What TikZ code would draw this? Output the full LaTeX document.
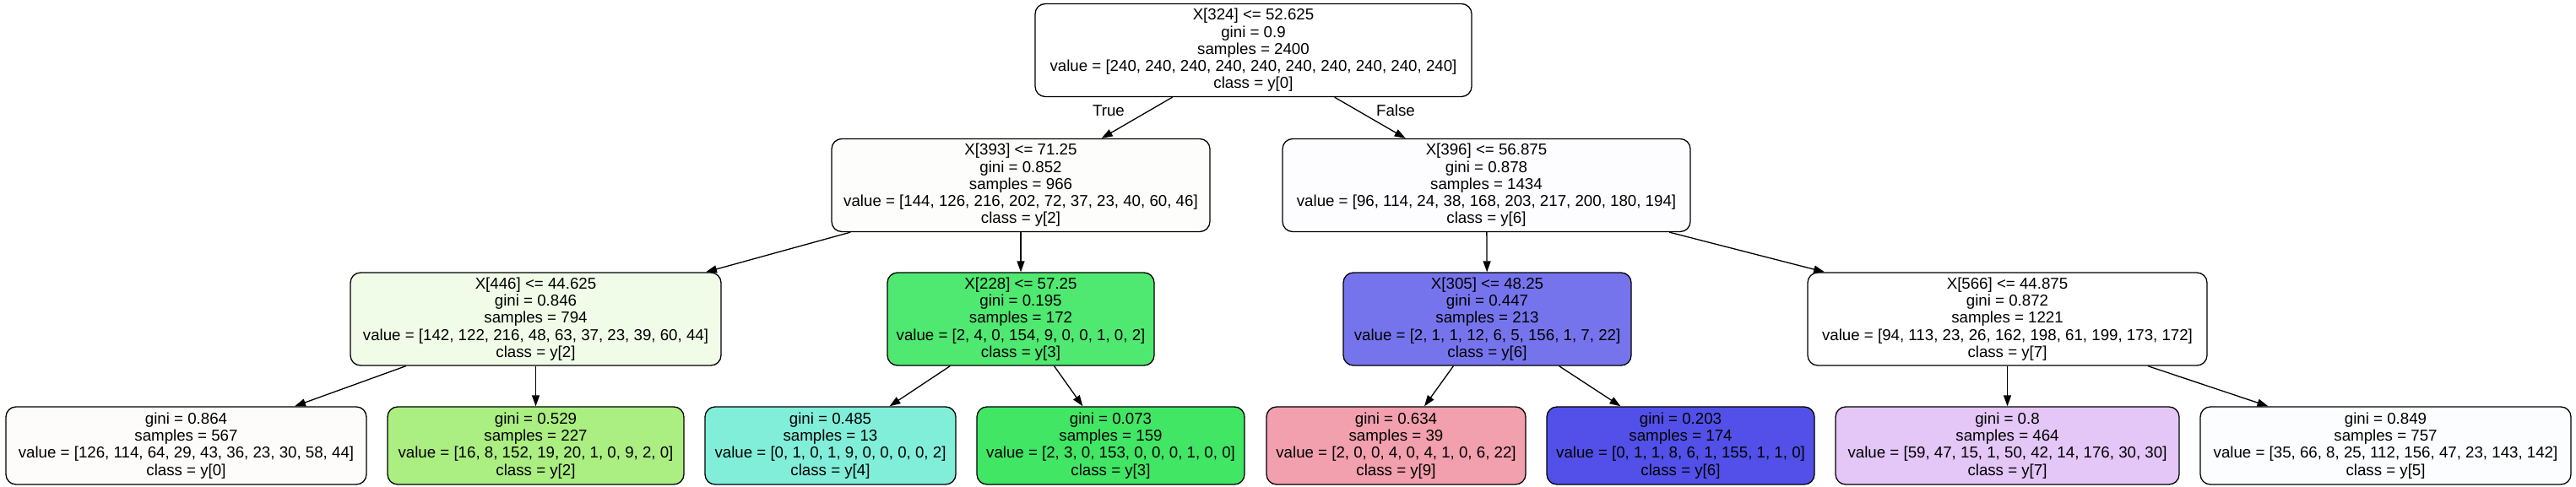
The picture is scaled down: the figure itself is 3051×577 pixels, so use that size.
\documentclass[tikz,border=0pt]{standalone}
\usepackage{fontspec}
\setmainfont{Liberation Sans}
\usetikzlibrary{arrows.meta}

\definecolor{c324}{HTML}{FFFFFF}
\definecolor{c393}{HTML}{FDFEFB}
\definecolor{c396}{HTML}{FDFDFF}
\definecolor{c446}{HTML}{F0FCE8}
\definecolor{c228}{HTML}{4FE870}
\definecolor{c305}{HTML}{7674ED}
\definecolor{c566}{HTML}{FFFFFF}
\definecolor{cl1}{HTML}{FEFCFA}
\definecolor{cl2}{HTML}{ABEE81}
\definecolor{cl3}{HTML}{81EEDA}
\definecolor{cl4}{HTML}{41E664}
\definecolor{cl5}{HTML}{F29FAE}
\definecolor{cl6}{HTML}{5250E8}
\definecolor{cl7}{HTML}{E4C6F7}
\definecolor{cl8}{HTML}{FBFDFE}

\begin{document}
\begin{tikzpicture} [->, >={Triangle[length=13pt,width=9pt]}, line width=1.3pt, x=1pt, y=-1pt]
  \tikzstyle{split}=[draw, rounded corners=12pt, align=center, inner sep=0pt, minimum height=110pt, font=\fontsize{18.7}{20.3}\selectfont]
  \tikzstyle{leaf}=[split, minimum height=92pt]
  \tikzstyle{annot}=[font=\fontsize{18.7}{20.3}\selectfont]

  \useasboundingbox (0,0) rectangle (3051,577);

  % splits
  \node[split, fill=c324, minimum width=517pt] (X324) at (1484.5,59.5) {X[324] <= 52.625\\gini = 0.9\\samples = 2400\\value = [240, 240, 240, 240, 240, 240, 240, 240, 240, 240]\\class = y[0]};
  \node[split, fill=c393, minimum width=448pt] (X393) at (1209,219.5) {X[393] <= 71.25\\gini = 0.852\\samples = 966\\value = [144, 126, 216, 202, 72, 37, 23, 40, 60, 46]\\class = y[2]};
  \node[split, fill=c396, minimum width=483pt] (X396) at (1760.5,219.5) {X[396] <= 56.875\\gini = 0.878\\samples = 1434\\value = [96, 114, 24, 38, 168, 203, 217, 200, 180, 194]\\class = y[6]};
  \node[split, fill=c446, minimum width=439pt] (X446) at (634.5,378) {X[446] <= 44.625\\gini = 0.846\\samples = 794\\value = [142, 122, 216, 48, 63, 37, 23, 39, 60, 44]\\class = y[2]};
  \node[split, fill=c228, minimum width=316pt] (X228) at (1209,378) {X[228] <= 57.25\\gini = 0.195\\samples = 172\\value = [2, 4, 0, 154, 9, 0, 0, 1, 0, 2]\\class = y[3]};
  \node[split, fill=c305, minimum width=341pt] (X305) at (1761.5,378) {X[305] <= 48.25\\gini = 0.447\\samples = 213\\value = [2, 1, 1, 12, 6, 5, 156, 1, 7, 22]\\class = y[6]};
  \node[split, fill=c566, minimum width=473pt] (X566) at (2377.5,378) {X[566] <= 44.875\\gini = 0.872\\samples = 1221\\value = [94, 113, 23, 26, 162, 198, 61, 199, 173, 172]\\class = y[7]};

  % leaves
  \node[leaf, fill=cl1, minimum width=427pt] (L-1) at (220.5,528) {gini = 0.864\\samples = 567\\value = [126, 114, 64, 29, 43, 36, 23, 30, 58, 44]\\class = y[0]};
  \node[leaf, fill=cl2, minimum width=351pt] (L-2) at (634.5,528) {gini = 0.529\\samples = 227\\value = [16, 8, 152, 19, 20, 1, 0, 9, 2, 0]\\class = y[2]};
  \node[leaf, fill=cl3, minimum width=297pt] (L-3) at (983.5,528) {gini = 0.485\\samples = 13\\value = [0, 1, 0, 1, 9, 0, 0, 0, 0, 2]\\class = y[4]};
  \node[leaf, fill=cl4, minimum width=317pt] (L-4) at (1315.5,528) {gini = 0.073\\samples = 159\\value = [2, 3, 0, 153, 0, 0, 0, 1, 0, 0]\\class = y[3]};
  \node[leaf, fill=cl5, minimum width=307pt] (L-5) at (1653.5,528) {gini = 0.634\\samples = 39\\value = [2, 0, 0, 4, 0, 4, 1, 0, 6, 22]\\class = y[9]};
  \node[leaf, fill=cl6, minimum width=317pt] (L-6) at (1990.5,528) {gini = 0.203\\samples = 174\\value = [0, 1, 1, 8, 6, 1, 155, 1, 1, 0]\\class = y[6]};
  \node[leaf, fill=cl7, minimum width=407pt] (L-7) at (2377.5,528) {gini = 0.8\\samples = 464\\value = [59, 47, 15, 1, 50, 42, 14, 176, 30, 30]\\class = y[7]};
  \node[leaf, fill=cl8, minimum width=439pt] (L-8) at (2825.5,528) {gini = 0.849\\samples = 757\\value = [35, 66, 8, 25, 112, 156, 47, 23, 143, 142]\\class = y[5]};

  \foreach \source / \dest in {X324/X393, X324/X396, X393/X446, X393/X228, X396/X305, X396/X566,
      X446/L-1, X446/L-2, X228/L-3, X228/L-4, X305/L-5, X305/L-6, X566/L-7, X566/L-8}
    \path (\source) edge (\dest);

  \node[annot] (t) at (1313,131) {True};
  \node[annot] (f) at (1653,131) {False};

\end{tikzpicture}
\end{document}
